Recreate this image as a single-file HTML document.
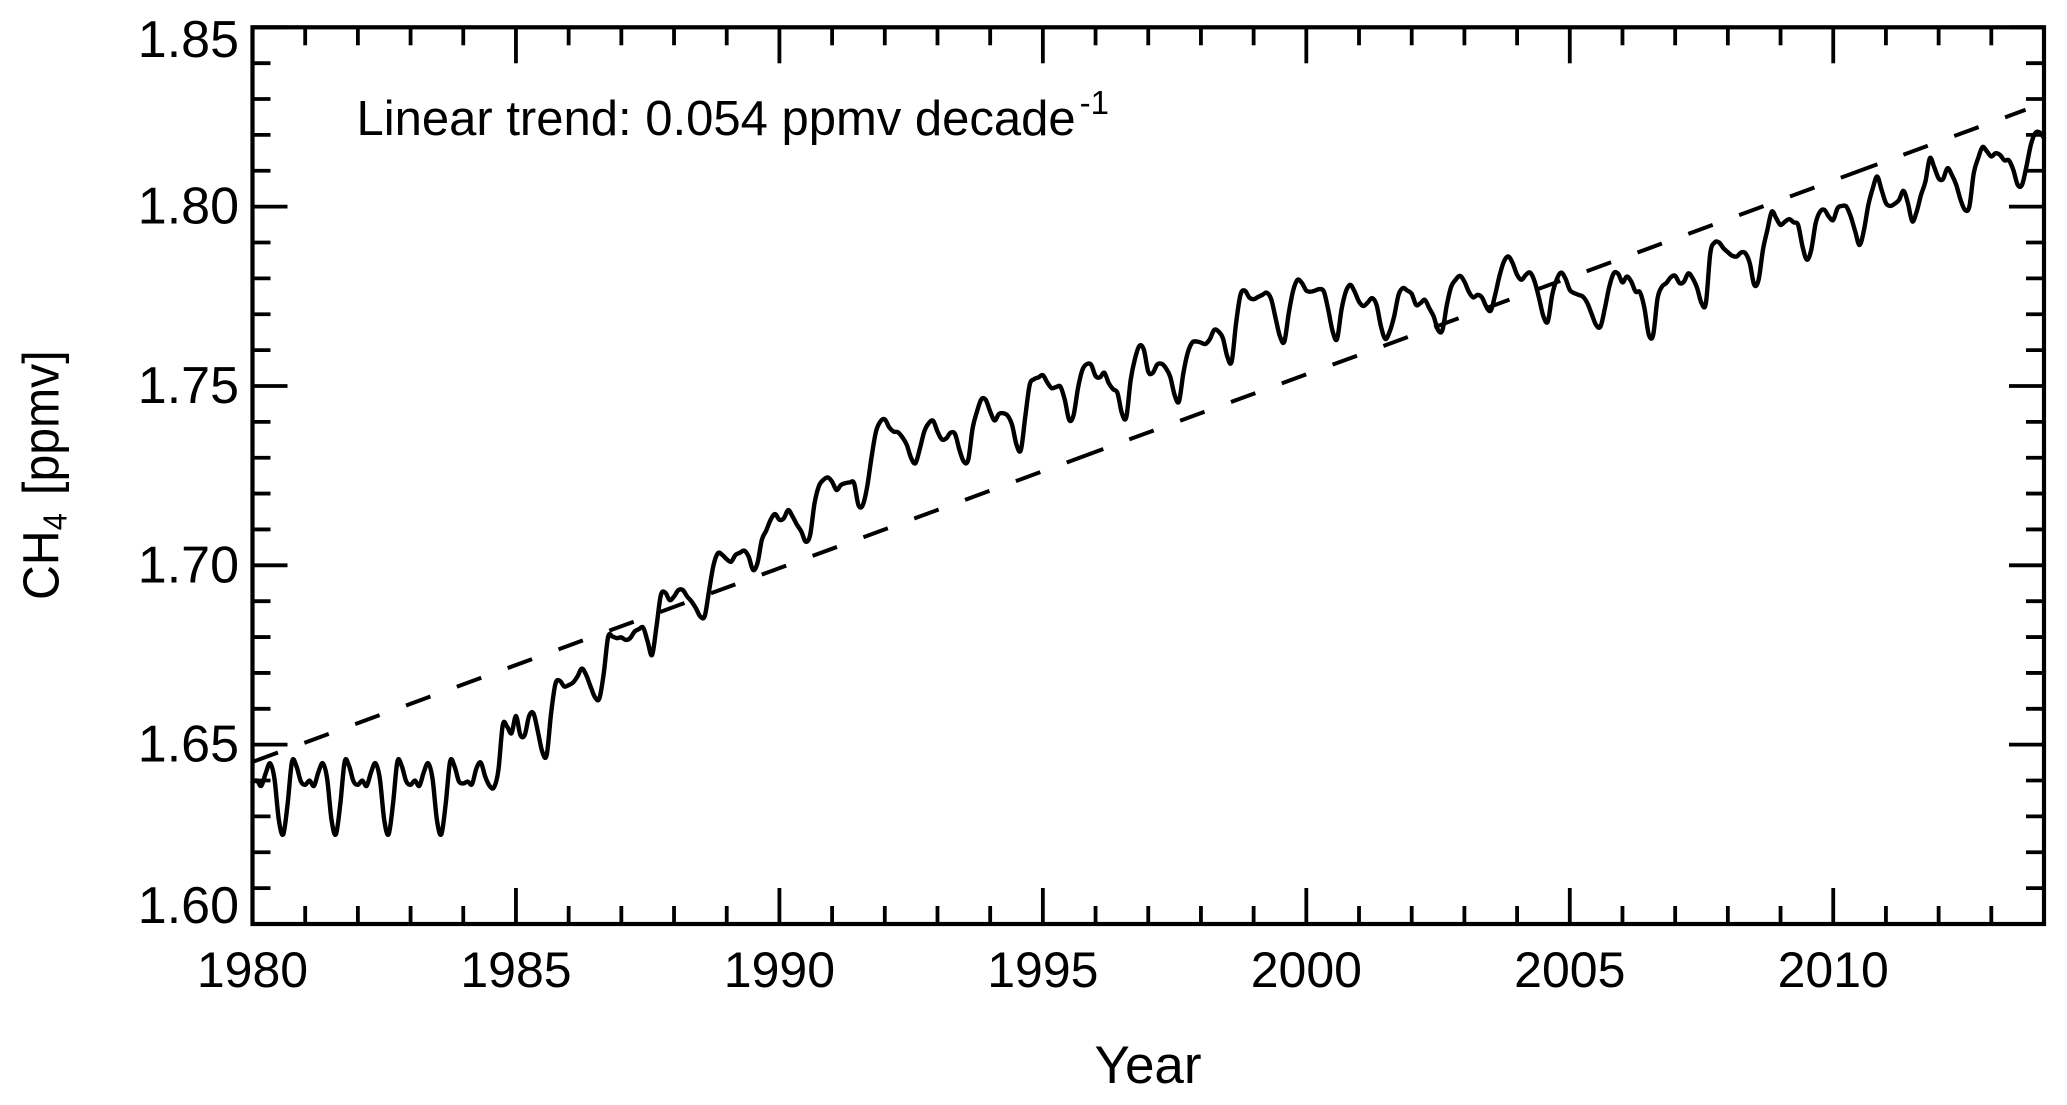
<!DOCTYPE html>
<html lang="en">
<head>
<meta charset="utf-8">
<title>CH4 time series 1980-2014</title>
<style>
  html, body { margin: 0; padding: 0; background: #fff; }
  #chart { display: block; }
  text { font-family: "Liberation Sans", Arial, sans-serif; fill: #000; }
</style>
</head>
<body>
<svg id="chart" xmlns="http://www.w3.org/2000/svg" width="2067" height="1105" viewBox="0 0 2067 1105">
  <rect x="0" y="0" width="2067" height="1105" fill="#fff"/>
  <g id="ticks"></g>
  <g id="labels"></g>
  <path id="trend" fill="none" stroke="#000" stroke-width="4"/>
  <path id="series" fill="none" stroke="#000" stroke-width="4.4" stroke-linejoin="round" stroke-linecap="round"/>
  <rect x="252.5" y="27.3" width="1791.5" height="896.7" fill="none" stroke="#000" stroke-width="4.2"/>
  <text x="356.5" y="135" font-size="49">Linear trend: 0.054 ppmv decade<tspan dx="4" dy="-21" font-size="33">-1</tspan></text>
  <text x="1148" y="1083" font-size="53" text-anchor="middle">Year</text>
  <text transform="translate(58.3 600) rotate(-90) scale(0.945 1)" font-size="51">CH<tspan dy="8" font-size="33">4</tspan><tspan dy="-8" dx="5"> [ppmv]</tspan></text>
</svg>
<script>
// Monthly CH4 in ppbv, one row per year; the last value is January 2014.
const startYear = 1980;
const ch4Ppbv = [
  1639.5,1640,1638.5,1642,1644.8,1640.5,1629,1625,1633.5,1645.3,1644,1639.8,
  1638.8,1640,1638.5,1642.3,1644.8,1640.5,1629,1625,1633.5,1645.3,1644,1639.8,
  1638.8,1640,1638.5,1642.3,1644.8,1640.5,1629,1625,1633.5,1645.3,1644,1639.8,
  1638.8,1640,1638.5,1642.3,1644.8,1640.5,1629,1625,1633.5,1645.3,1644,1639.8,
  1639.2,1639.7,1639,1643.4,1645,1641.1,1638.5,1638.1,1642.9,1655.5,1655,1653.2,
  1658,1652.7,1652.7,1658,1658.7,1653.6,1648,1647.1,1658.7,1667,1667.8,1666.2,
  1666.6,1667.3,1669,1671.2,1669.4,1666.2,1663.2,1662.9,1669.9,1680.1,1680.1,1679.7,
  1679.9,1679.2,1679.7,1681.5,1682.2,1682.6,1678.7,1675,1682.9,1691.7,1692.4,1690.3,
  1691.3,1693.1,1693.1,1691.3,1689.9,1688,1685.7,1685.9,1693.1,1700.1,1703.4,1702.9,
  1701.7,1701,1702.9,1703.5,1704.1,1702.4,1698.7,1700.6,1707.1,1709.7,1712.7,1714.3,
  1712.7,1713.1,1715.4,1713.6,1711.3,1709.4,1706.6,1708.5,1717.3,1722.1,1723.8,1724.5,
  1723.3,1721,1722.4,1722.9,1723.1,1722.9,1716.8,1716.8,1722,1730.3,1737.3,1740.1,
  1740.7,1738.5,1737.3,1737.1,1735.7,1733.6,1729.9,1728.5,1732.6,1737.3,1739.6,1740.3,
  1737.3,1735.1,1735.4,1737,1736.6,1732.2,1728.9,1729.4,1738.2,1742.9,1746.3,1746.1,
  1742.9,1740.4,1742.2,1742.4,1741.7,1739.1,1733.6,1732.2,1741.5,1750.3,1751.9,1752.4,
  1753,1751,1749.4,1749.7,1749.8,1746.1,1740.5,1741.9,1749.4,1754.5,1756.1,1755.9,
  1752.8,1752.4,1753.7,1750.8,1749.1,1748,1742.4,1741.3,1751.7,1757.7,1761.2,1760.1,
  1754,1753.6,1755.9,1756.2,1755,1752.6,1747.5,1745.7,1753.6,1759.3,1762.1,1762.4,
  1762.1,1761.7,1763,1765.6,1765.2,1763.3,1758.2,1756.8,1767.5,1775.4,1776.6,1774.7,
  1774.2,1774.8,1775.4,1776,1774.2,1768.9,1763.8,1762.4,1770.3,1776.6,1779.6,1778.7,
  1776.6,1776.3,1776.6,1777,1776.3,1771.2,1765.2,1763.1,1771.2,1776.3,1778.2,1776.3,
  1773.5,1772.3,1773.3,1774.5,1772.6,1766.6,1763.1,1765.2,1769.4,1775.4,1777.3,1776.6,
  1775.7,1772.6,1773.1,1774,1771.7,1769.4,1765.6,1765.6,1772.6,1777.7,1779.6,1780.7,
  1779.1,1776.3,1774.7,1775.4,1774.7,1772.1,1771,1775.4,1780.7,1784.7,1786.1,1784.2,
  1781,1779.6,1781,1781.6,1779.1,1774.5,1769.4,1768,1775.4,1779.6,1781.6,1780,
  1776.8,1775.9,1775.4,1774.9,1773.1,1770,1767,1766.6,1771.7,1777.7,1781.4,1781.3,
  1778.9,1780.5,1779.1,1776.3,1776.1,1771.7,1764.3,1764.3,1774.5,1777.7,1778.7,1780.3,
  1780.7,1778.7,1779.1,1781.4,1780,1777.3,1773.1,1773.1,1787,1790,1790,1788.4,
  1787.3,1786.3,1786.1,1787.2,1787,1784.2,1778.2,1779.6,1788,1793.5,1798.6,1796.8,
  1794.9,1795.8,1796.5,1795.6,1794.9,1788.9,1785.2,1788,1795.4,1798.6,1799.1,1797.2,
  1796.3,1799.6,1800.2,1800,1797.2,1793.1,1789.3,1793.5,1800.5,1805.1,1808.4,1804.7,
  1801,1800.2,1800.8,1801.9,1804.4,1801,1795.9,1798.6,1803.3,1807,1813.5,1811,
  1807.9,1807.7,1810.7,1808.9,1806.1,1801.9,1799.1,1800,1809.3,1813.5,1816.6,1815.4,
  1814,1814.9,1814.4,1812.9,1812.9,1810.3,1806.1,1806.1,1811.2,1817.2,1820.5,1820.7,
  1819.1
];
// Dashed linear trend: end points, 0.054 ppmv per decade.
const trendYears = [1980.02, 2013.65];
const trendPpbv = [1645.3, 1827.0];
// Axis ticks and labels.
const xMajorLabels = ["1980","1985","1990","1995","2000","2005","2010"];
const yMajorLabels = ["1.60","1.65","1.70","1.75","1.80","1.85"];
const xTickYears = [1980,1981,1982,1983,1984,1985,1986,1987,1988,1989,1990,1991,1992,1993,1994,1995,1996,1997,1998,1999,2000,2001,2002,2003,2004,2005,2006,2007,2008,2009,2010,2011,2012,2013,2014];
const yTickHundredths = [160,161,162,163,164,165,166,167,168,169,170,171,172,173,174,175,176,177,178,179,180,181,182,183,184,185];

const SVG_NS = 'http://www.w3.org/2000/svg';
const plot = { left: 252.5, right: 2044, top: 27.3, bottom: 924 };
const xAxis = { min: 1980, max: 2014 };
const yAxis = { min: 1.60, max: 1.85 };
function xScale(year) {
  return plot.left + (year - xAxis.min) / (xAxis.max - xAxis.min) * (plot.right - plot.left);
}
function yScale(ppmv) {
  return plot.bottom - (ppmv - yAxis.min) / (yAxis.max - yAxis.min) * (plot.bottom - plot.top);
}
function addTick(parent, x1, y1, x2, y2) {
  const el = document.createElementNS(SVG_NS, 'line');
  
  
  el.setAttribute('x1', x1);
  el.setAttribute('y1', y1);
  el.setAttribute('x2', x2);
  el.setAttribute('y2', y2);
  el.setAttribute('stroke', '#000');
  el.setAttribute('stroke-width', '3.8');
  parent.appendChild(el);
}
function addLabel(parent, name, str, x, y, anchor, size) {
  const el = document.createElementNS(SVG_NS, 'text');
  
  
  el.setAttribute('x', x);
  el.setAttribute('y', y);
  el.setAttribute('font-size', size);
  el.setAttribute('text-anchor', anchor);
  el.textContent = str;
  parent.appendChild(el);
}
const tickGroup = document.getElementById('ticks');
const labelGroup = document.getElementById('labels');
xTickYears.forEach(function (year) {
  const major = (year - xAxis.min) % 5 === 0;
  const len = major ? 36 : 18;
  const x = xScale(year);
  addTick(tickGroup, x, plot.bottom, x, plot.bottom - len);
  addTick(tickGroup, x, plot.top, x, plot.top + len);
});
yTickHundredths.forEach(function (h) {
  const major = h % 5 === 0;
  const len = major ? 35 : 18;
  const y = yScale(h / 100);
  addTick(tickGroup, plot.left, y, plot.left + len, y);
  addTick(tickGroup, plot.right, y, plot.right - len, y);
});
xMajorLabels.forEach(function (s) {
  addLabel(labelGroup, 'x-tick-label', s, xScale(Number(s)), 987, 'middle', 50);
});
yMajorLabels.forEach(function (s) {
  const base = Math.min(923, Math.max(57, yScale(Number(s)) + 17));
  addLabel(labelGroup, 'y-tick-label', s, 239, base, 'end', 52);
});
// Trend line, with the dash pattern of the original (a longer dash twice along the line).
const trendEl = document.getElementById('trend');
trendEl.setAttribute('d', 'M' + xScale(trendYears[0]).toFixed(2) + ' ' + yScale(trendPpbv[0] / 1000).toFixed(2) +
  'L' + xScale(trendYears[1]).toFixed(2) + ' ' + yScale(trendPpbv[1] / 1000).toFixed(2));
trendEl.setAttribute('stroke-dasharray',
  '26 28.15 '.repeat(16) + '39 27.7 ' + '26 28.15 '.repeat(14) + '39 27.7 ' + '26 28.15 '.repeat(2));
// Series line: monthly points joined by a smooth curve.
const pts = ch4Ppbv.map(function (v, i) {
  return [xScale(startYear + i / 12), yScale(v / 1000)];
});
let d = 'M' + pts[0][0].toFixed(2) + ' ' + pts[0][1].toFixed(2);
for (let i = 0; i < pts.length - 1; i++) {
  const p0 = pts[Math.max(i - 1, 0)];
  const p1 = pts[i];
  const p2 = pts[i + 1];
  const p3 = pts[Math.min(i + 2, pts.length - 1)];
  const c1x = p1[0] + (p2[0] - p0[0]) / 6;
  const c1y = p1[1] + (p2[1] - p0[1]) / 6;
  const c2x = p2[0] - (p3[0] - p1[0]) / 6;
  const c2y = p2[1] - (p3[1] - p1[1]) / 6;
  d += 'C' + c1x.toFixed(2) + ' ' + c1y.toFixed(2) + ' ' + c2x.toFixed(2) + ' ' + c2y.toFixed(2) + ' ' + p2[0].toFixed(2) + ' ' + p2[1].toFixed(2);
}
document.getElementById('series').setAttribute('d', d);
</script>
</body>
</html>
